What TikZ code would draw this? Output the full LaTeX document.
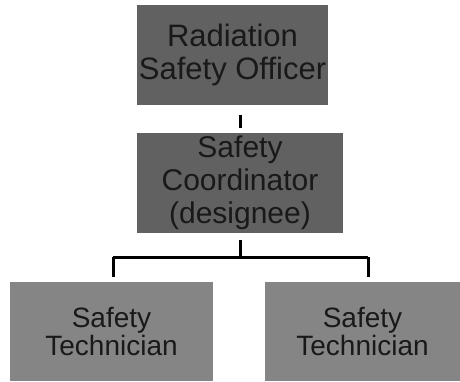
\documentclass[tikz,border=0pt]{standalone}
\usepackage{fontspec}
\setmainfont{Liberation Sans}
\usetikzlibrary{calc}
\begin{document}
\begin{tikzpicture}[x=1pt,y=1pt,
  darkbox/.style={fill=black!62, draw=none, inner sep=0pt, align=center, text=black!90},
  lightbox/.style={fill=black!48, draw=none, inner sep=0pt, align=center, text=black!90},
  link/.style={line width=3pt, black}]
\useasboundingbox (0,0) rectangle (460,381);
\node[darkbox, minimum width=191pt, minimum height=100pt, font=\fontsize{31}{33}\selectfont] (rso) at (232.5,326) {Radiation\\Safety Officer};
\node[darkbox, minimum width=206pt, minimum height=100pt, font=\fontsize{30}{33}\selectfont] (sc) at (240,198) {Safety\\Coordinator\\(designee)};
\node[lightbox, minimum width=203pt, minimum height=99pt, font=\fontsize{28}{28}\selectfont] (st1) at (111.5,49.5) {Safety\\Technician};
\node[lightbox, minimum width=195pt, minimum height=99pt, font=\fontsize{28}{28}\selectfont] (st2) at (362.5,49.5) {Safety\\Technician};
\coordinate (bus) at (240,124);
\draw[link, shorten <=10pt, shorten >=5pt] (sc.north |- rso.south) -- (sc.north);
\draw[link, shorten <=7pt] (sc.south) -- (bus);
\draw[link, shorten >=5pt] ([xshift=1.5pt]st1.north |- bus) -- ([xshift=1.5pt]st1.north);
\draw[link, shorten >=5pt] ([xshift=5.5pt]st2.north |- bus) -- ([xshift=5.5pt]st2.north);
\draw[link] ([xshift=1.5pt]st1.north |- bus) -- ([xshift=5.5pt]st2.north |- bus);
\end{tikzpicture}
\end{document}
